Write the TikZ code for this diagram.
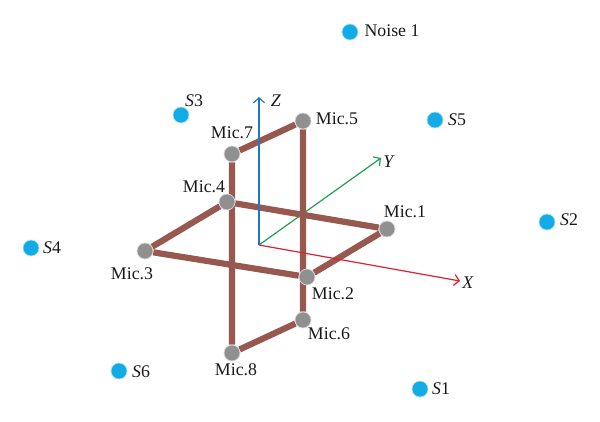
\documentclass[tikz,border=0pt]{standalone}
\usepackage{fontspec}
\setmainfont{Liberation Serif}
\usepackage{xcolor}
\usetikzlibrary{positioning, arrows.meta, backgrounds}
\definecolor{frameBrown}{HTML}{97594F}
\definecolor{micGray}{HTML}{909090}
\definecolor{srcBlue}{HTML}{12ABE6}
\definecolor{axisRed}{HTML}{E0202C}
\definecolor{axisGreen}{HTML}{1FA050}
\definecolor{axisBlue}{HTML}{1F78C0}
\tikzset{
    >={Straight Barb[length=5pt,width=11pt]}, % open arrow heads
    every node/.style={font=\fontsize{17.8}{19}\selectfont, text=black!90},
    mic/.style={circle, fill=micGray, draw=white!85!black, line width=0.7pt, minimum size=16pt, inner sep=0pt},
    source/.style={circle, fill=srcBlue, draw=srcBlue!35, line width=0.7pt, minimum size=16pt, inner sep=0pt},
    txt/.style={inner sep=0pt},
    frame/.style={draw=frameBrown, line width=6.2pt},
    axis/.style={->, line width=1.2pt},
}

\begin{document}
\begin{tikzpicture}[x=1pt, y=-1pt]
        \useasboundingbox (0,0) rectangle (600,422);
        % microphones
        \node[mic] (M1) at (387,229) {};
        \node[mic] (M2) at (307,277) {};
        \node[mic] (M3) at (145,251) {};
        \node[mic] (M4) at (227,202) {};
        \node[mic] (M5) at (303,121) {};
        \node[mic] (M6) at (303,320) {};
        \node[mic] (M7) at (232,154) {};
        \node[mic] (M8) at (232,353) {};

        % sources
        \node[source] (N1) at (350,32) {};
        \node[source] (S1) at (420,389) {};
        \node[source] (S2) at (547,222) {};
        \node[source] (S3) at (181,115) {};
        \node[source] (S4) at (31,248) {};
        \node[source] (S5) at (435,120) {};
        \node[source] (S6) at (119,371) {};

        % axes
        \coordinate (O) at (259,245);
        \node[txt] (X) at (468,283) {\textit{X}};
        \node[txt] (Y) at (389,162) {\textit{Y}};
        \node[txt] (Z) at (276,101) {\textit{Z}};
        \coordinate (Xend) at (460,281);
        \coordinate (Yend) at (381,158);
        \coordinate (Zend) at (259,97);

        % labels
        \node[txt] (M1_L) at (405,212) {Mic.1};
        \node[txt] (M2_L) at (333,294) {Mic.2};
        \node[txt] (M3_L) at (132,274) {Mic.3};
        \node[txt] (M4_L) at (204,187) {Mic.4};
        \node[txt] (M5_L) at (337,119) {Mic.5};
        \node[txt] (M6_L) at (329,334) {Mic.6};
        \node[txt] (M7_L) at (232,133) {Mic.7};
        \node[txt] (M8_L) at (236,370) {Mic.8};
        \node[txt] (N1_L) at (392,31) {Noise 1};
        \node[txt] (S1_L) at (441,389) {\textit{S}1};
        \node[txt] (S2_L) at (569,220) {\textit{S}2};
        \node[txt] (S3_L) at (194,101) {\textit{S}3};
        \node[txt] (S4_L) at (52,248) {\textit{S}4};
        \node[txt] (S5_L) at (457,120) {\textit{S}5};
        \node[txt] (S6_L) at (141,372) {\textit{S}6};

        % draw edges behind the nodes
        \begin{pgfonlayer}{background}
            \draw[axis, draw=axisGreen] (O) -- (Yend);
            \draw[frame] (M1) -- (M2) -- (M3) -- (M4) -- (M1);
            \draw[frame] (M5) -- (M7) -- (M8) -- (M6) -- (M5);
            \draw[axis, draw=axisRed] (O) -- (Xend);
            \draw[axis, draw=axisBlue] (O) -- (Zend);
        \end{pgfonlayer}
\end{tikzpicture}
\end{document}
